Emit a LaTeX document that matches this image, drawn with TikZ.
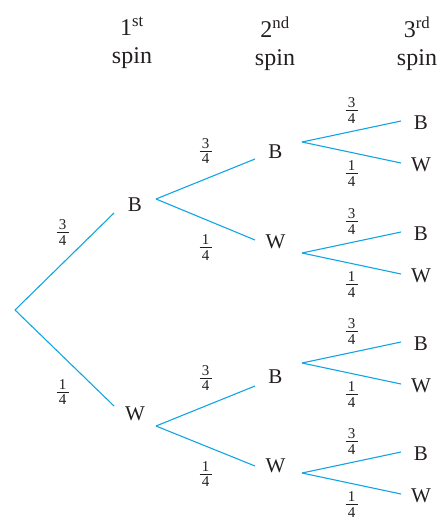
\documentclass[tikz,border=0pt]{standalone}
\usepackage{fontspec}
\setmainfont{Liberation Serif}
\usetikzlibrary{calc}
\definecolor{ink}{HTML}{231F20}
\definecolor{branch}{HTML}{12A5E4}
% stacked fraction: numerator, bar, denominator
\newcommand\prob[2]{\vbox{\hbox to 12pt{\hss#1\hss}\kern2.4pt\hrule height 0.6pt\kern2.4pt\hbox to 12pt{\hss#2\hss}}}

\begin{document}
\begin{tikzpicture}[x=1pt,y=-1pt,text=ink,
    spinlbl/.style={font=\fontsize{21}{24}\selectfont,inner sep=0pt},
    head/.style={font=\fontsize{24}{28}\selectfont,align=center,inner sep=0pt,anchor=north},
    probl/.style={font=\fontsize{15}{18}\selectfont,text=ink,inner sep=0pt},
    twig/.style={branch,line width=1.1pt}]
  \useasboundingbox (0,0) rectangle (444,520);
  % column headings
  \foreach \n/\x/\s in {1/132/st,2/275/nd,3/417/rd}
    \node[head] (head\n) at (\x,17) {\n\textsuperscript{\s}\\spin};

  % first spin
  \coordinate (o) at (15,310);
  \foreach \k/\ly/\ry/\ty/\n/\s in {B/213/199/205/3/29,W/406/426/414/1/-34}{
    \coordinate (\k-in) at (114,\ly);
    \coordinate (\k-out) at (156,\ry);
    \node[spinlbl] (\k) at (135,\ty) {\k};
    \draw[twig] (o) -- (\k-in) node[probl,midway,xshift=-2pt,yshift=\s pt] {\prob{\n}{4}};
  }

  % second spin
  \foreach \p/\q/\ly/\ry/\ty/\n/\s in {B/B/159/142/152/3/28,B/W/240/253/242/1/-28,
                                       W/B/386/363/377/3/28,W/W/466/473/466/1/-28}{
    \coordinate (\p\q-in) at (255,\ly);
    \coordinate (\p\q-out) at (302,\ry);
    \node[spinlbl] (\p\q) at (275.5,\ty) {\q};
    \draw[twig] (\p-out) -- (\p\q-in) node[probl,midway,yshift=\s pt] {\prob{\n}{4}};
  }

  % third spin
  \foreach \p in {BB,BW,WB,WW}
    \foreach \r/\d/\n/\s in {B/-21/3/21,W/21/1/-21}{
      \coordinate (\p\r-in) at ($(\p-out)+(99,\d)$);
      \node[spinlbl] (\p\r) at ($(\p\r-in)+(20,1.5)$) {\r};
      \draw[twig] (\p-out) -- (\p\r-in) node[probl,midway,yshift=\s pt] {\prob{\n}{4}};
    }
\end{tikzpicture}
\end{document}
